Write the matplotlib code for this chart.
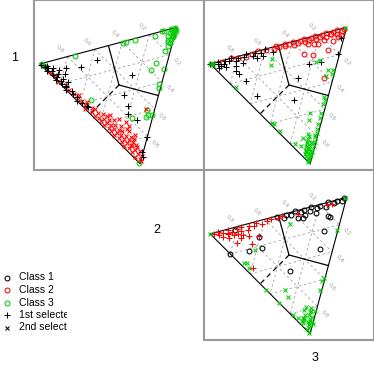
import numpy as np
import matplotlib.pyplot as plt

plt.rcParams['font.family'] = ['Liberation Sans', 'DejaVu Sans']

# compositions stored as (part 2, part 3); part 1 is the rest
# panel "1 vs 2"
a_class1 = [(0.00,0.01),(0.01,0.03),(0.02,0.05),(0.00,0.07),(0.03,0.08),(0.01,0.11),(0.04,0.12),
            (0.02,0.14),(0.00,0.16),(0.04,0.17),(0.01,0.20),(0.02,0.23),(0.00,0.26),(0.03,0.28),
            (0.01,0.31),(0.02,0.34),(0.00,0.37),(0.01,0.40),(0.05,0.06),(0.03,0.03),(0.02,0.18),
            (0.01,0.24),(0.03,0.43),(0.03,0.44),
            (0.35,0.09),(0.22,0.11),(0.12,0.09),(0.07,0.09),(0.09,0.13),(0.06,0.20),(0.47,0.28),
            (0.31,0.42),(0.26,0.52),(0.22,0.58),(0.23,0.65),(0.20,0.80),(0.08,0.91),(0.06,0.95)]
a_class2 = [(0.01,0.08),(0.02,0.12),(0.00,0.18),(0.03,0.22),(0.01,0.27),(0.02,0.31),(0.04,0.33),
            (0.01,0.36),(0.03,0.38),(0.05,0.40),(0.02,0.42),(0.00,0.45),(0.04,0.46),(0.06,0.47),
            (0.02,0.49),(0.05,0.51),(0.01,0.53),(0.07,0.53),(0.03,0.55),(0.09,0.55),(0.05,0.57),
            (0.02,0.58),(0.07,0.59),(0.04,0.61),(0.10,0.60),(0.01,0.62),(0.06,0.63),(0.08,0.64),
            (0.03,0.65),(0.05,0.67),(0.11,0.66),(0.02,0.68),(0.07,0.69),(0.09,0.70),(0.04,0.71),
            (0.01,0.72),(0.06,0.73),(0.12,0.72),(0.03,0.75),(0.08,0.75),(0.05,0.77),(0.10,0.77),
            (0.02,0.79),(0.07,0.79),(0.04,0.81),(0.09,0.81),(0.01,0.83),(0.06,0.83),(0.03,0.85),
            (0.08,0.86),(0.05,0.88),(0.02,0.89),(0.07,0.90),(0.04,0.92),(0.01,0.94),(0.03,0.96),
            (0.02,0.98),(0.06,0.94),(0.09,0.84),(0.11,0.79),
            (0.14,0.60),(0.16,0.64),(0.14,0.76),(0.06,0.84),(0.35,0.58),(0.11,0.55),(0.12,0.70),
            (0.15,0.68)]
a_class3 = [(0.95,0.02),(0.98,0.01),(0.93,0.03),(0.90,0.05),(0.90,0.08),(0.87,0.11),(0.84,0.13),
            (0.80,0.16),(0.95,0.03),(0.91,0.00),(0.89,0.00),(0.83,0.02),(0.86,0.10),(0.69,0.01),
            (0.62,0.01),(0.60,0.01),(0.67,0.24),(0.61,0.28),(0.69,0.30),(0.57,0.41),(0.55,0.44),
            (0.25,0.01),(0.09,0.39),(0.35,0.59),(0.33,0.63),(0.31,0.64),(0.35,0.64),(0.22,0.62),
            (0.00,0.99),(0.01,0.00),(0.01,0.02),(0.97,0.02),(0.96,0.00),(0.99,0.00),(0.94,0.05),
            (0.92,0.07),(0.97,0.03),(0.93,0.06),(0.88,0.08)]

# panel "1 vs 3"
b_class1 = [(0.00,0.00),(0.02,0.01),(0.04,0.02),(0.06,0.00),(0.08,0.03),(0.10,0.01),(0.12,0.02),
            (0.15,0.00),(0.17,0.03),(0.20,0.01),(0.23,0.02),(0.26,0.00),(0.29,0.03),(0.05,0.04),
            (0.03,0.05),(0.32,0.01),(0.36,0.02),(0.40,0.00),
            (0.20,0.06),(0.31,0.05),(0.35,0.05),(0.11,0.11),(0.11,0.14),(0.11,0.21),(0.42,0.30),
            (0.28,0.46),(0.09,0.35),(0.57,0.21),(0.65,0.22),(0.80,0.19),(0.91,0.07),(0.43,0.04),
            (0.14,0.07),(0.07,0.06)]
b_class2 = [(0.08,0.01),(0.35,0.00),(0.40,0.01),(0.45,0.02),(0.48,0.00),(0.50,0.01),(0.53,0.02),
            (0.55,0.00),(0.57,0.01),(0.59,0.03),(0.61,0.00),(0.63,0.02),(0.65,0.01),(0.67,0.03),
            (0.69,0.00),(0.71,0.02),(0.73,0.01),(0.75,0.03),(0.77,0.00),(0.79,0.02),(0.81,0.01),
            (0.83,0.03),(0.85,0.00),(0.87,0.02),(0.89,0.01),(0.91,0.03),(0.93,0.00),(0.95,0.02),
            (0.97,0.01),(0.20,0.01),(0.25,0.02),(0.30,0.01),(0.15,0.00),
            (0.60,0.12),(0.64,0.15),(0.76,0.14),(0.58,0.35),(0.68,0.05),(0.74,0.07),(0.87,0.02),
            (0.89,0.06),(0.80,0.05),(0.84,0.08),(0.72,0.06),(0.92,0.05)]
b_class3 = [(0.34,0.14),(0.39,0.09),(0.62,0.21),(0.66,0.20),(0.64,0.30),(0.64,0.34),(0.60,0.34),
            (0.67,0.31),(0.01,0.24),(0.01,0.60),(0.02,0.61),(0.01,0.68),(0.03,0.81),(0.29,0.60),
            (0.25,0.65),(0.45,0.53),(0.47,0.50),(0.42,0.56),(0.00,0.00),(0.01,0.01),(0.02,0.00),
            (0.99,0.00),
            (0.15,0.84),(0.20,0.78),(0.24,0.74),(0.28,0.70),(0.32,0.66),(0.36,0.62),(0.18,0.80),
            (0.22,0.77),
            (0.05,0.92),(0.07,0.90),(0.03,0.95),(0.00,0.98),(0.02,0.96),(0.10,0.86),(0.12,0.84),
            (0.08,0.88),(0.06,0.93),(0.04,0.94),(0.09,0.90),(0.13,0.80),(0.15,0.78),(0.11,0.82),
            (0.14,0.83),(0.05,0.89),(0.02,0.93),(0.07,0.86),(0.10,0.83),(0.04,0.90),(0.08,0.91),
            (0.01,0.97),(0.06,0.88),(0.12,0.87),(0.03,0.91),(0.09,0.85),(0.16,0.76),(0.05,0.84),
            (0.11,0.78)]

# panel "2 vs 3"
c_class1 = [(0.55,0.01),(0.58,0.02),(0.62,0.00),(0.65,0.02),(0.68,0.01),(0.71,0.03),(0.74,0.00),
            (0.77,0.02),(0.80,0.01),(0.83,0.03),(0.86,0.00),(0.89,0.02),(0.92,0.01),(0.95,0.02),
            (0.98,0.00),(0.48,0.01),(0.52,0.03),
            (0.60,0.06),(0.73,0.06),(0.78,0.11),(0.79,0.12),(0.67,0.22),(0.55,0.35),(0.25,0.46),
            (0.22,0.22),(0.12,0.22),(0.00,0.20),(0.17,0.02),(0.26,0.13),(0.63,0.07),(0.66,0.05)]
c_class2 = [(0.02,0.01),(0.04,0.03),(0.06,0.00),(0.08,0.02),(0.10,0.04),(0.12,0.01),(0.14,0.03),
            (0.16,0.06),(0.18,0.02),(0.20,0.04),(0.22,0.01),(0.24,0.05),(0.27,0.02),(0.30,0.03),
            (0.33,0.01),(0.36,0.03),(0.40,0.02),(0.44,0.01),(0.48,0.02),(0.52,0.01),(0.06,0.05),
            (0.09,0.07),(0.13,0.06),(0.18,0.08),(0.11,0.03),
            (0.10,0.13),(0.18,0.17),(0.05,0.36),(0.27,0.12),(0.88,0.02),(0.84,0.02),(0.62,0.03),
            (0.21,0.10),(0.15,0.10)]
c_class3 = [(0.16,0.83),(0.37,0.61),(0.31,0.68),(0.40,0.59),(0.75,0.24),(0.52,0.09),(0.17,0.22),
            (0.04,0.31),(0.03,0.35),(0.03,0.30),(0.00,0.56),(0.11,0.60),(0.09,0.66),(0.00,0.69),
            (0.01,0.82),(0.00,0.00),(0.99,0.00),
            (0.02,0.85),(0.04,0.88),(0.06,0.86),(0.08,0.84),(0.10,0.85),(0.05,0.92),(0.03,0.95),
            (0.00,0.99),(0.07,0.90),(0.09,0.88),(0.12,0.83),(0.14,0.82),(0.11,0.87),(0.06,0.90),
            (0.02,0.90),(0.04,0.93),(0.10,0.80),(0.13,0.78),(0.01,0.96),(0.08,0.91),(0.05,0.86),
            (0.03,0.88),(0.07,0.93),(0.15,0.80)]

levels = [0.2, 0.4, 0.6, 0.8]
class_colors = ['black', '#ff0000', '#00cd00']
legend_labels = ['Class 1', 'Class 2', 'Class 3', '1st selected', '2nd selected']
diag_labels = ['1', '2', '3']

W = 374.0
fig = plt.figure(figsize=(3.74, 3.74), dpi=100)


def px_axes(x0, y0, w, h):
    return fig.add_axes([x0 / W, 1 - (y0 + h) / W, w / W, h / W])


ang = np.deg2rad([165, 45, 285])
verts = np.column_stack([0.5 + 0.48 * np.cos(ang), 0.5 + 0.48 * np.sin(ang)])


def to_xy(pts):
    p = np.array(pts)
    comp = np.column_stack([1 - p[:, 0] - p[:, 1], p[:, 0], p[:, 1]])
    return comp @ verts


def style_kw(m):
    if m == 'o':
        return dict(marker='o', ms=3.5, mfc='none', mew=0.75)
    if m == '+':
        return dict(marker='+', ms=4.5, mew=0.75)
    return dict(marker='x', ms=3.4, mew=0.75)


def ternary(ax, sets):
    ax.set_xlim(0, 1)
    ax.set_ylim(0, 1)
    ax.set_xticks([])
    ax.set_yticks([])
    for sp in ax.spines.values():
        sp.set_color('#999999')
        sp.set_linewidth(1.5)
    # gray grid
    for lev in levels:
        for k in range(3):
            i, j = [m for m in range(3) if m != k]
            a = np.zeros(3); a[k] = lev; a[i] = 1 - lev
            b = np.zeros(3); b[k] = lev; b[j] = 1 - lev
            p, q = a @ verts, b @ verts
            ax.plot([p[0], q[0]], [p[1], q[1]], color='#a0a0a0', lw=0.6,
                    ls=(0, (3, 3)), zorder=1)
    tri = np.vstack([verts, verts[:1]])
    ax.plot(tri[:, 0], tri[:, 1], color='black', lw=0.8, zorder=2)
    # axis labels at grid ends
    d = verts[2] - verts[0]
    d = d / np.linalg.norm(d)
    for u in levels:
        pt = verts[0] + u * (verts[1] - verts[0]) - 0.062 * d
        ax.text(pt[0], pt[1], f'{1 - u:.1f}', fontsize=4.5, color='#a0a0a0',
                rotation=-45, ha='center', va='center')
        pt = verts[1] + u * (verts[2] - verts[1]) + 0.062 * d
        ax.text(pt[0], pt[1], f'{u:.1f}', fontsize=4.5, color='#a0a0a0',
                rotation=-45, ha='center', va='center')
    # class boundaries
    c = verts.mean(axis=0)
    for (i, j), ls in [((0, 1), '-'), ((1, 2), '-'), ((2, 0), (0, (4, 3)))]:
        m = (verts[i] + verts[j]) / 2
        ax.plot([c[0], m[0]], [c[1], m[1]], color='black', lw=0.9, ls=ls, zorder=2)
    for pts, col, mk in sets:
        xy = to_xy(pts)
        ax.plot(xy[:, 0], xy[:, 1], ls='none', color=col, zorder=3, **style_kw(mk))


ax1 = px_axes(34, 0, 170, 170)
ternary(ax1, [(a_class3, class_colors[2], 'o'), (a_class2, class_colors[1], 'x'),
              (a_class1, class_colors[0], '+')])
ax2 = px_axes(204, 0, 170, 170)
ternary(ax2, [(b_class2, class_colors[1], 'o'), (b_class1, class_colors[0], '+'),
              (b_class3, class_colors[2], 'x')])
ax3 = px_axes(204, 170, 170, 170)
ternary(ax3, [(c_class1, class_colors[0], 'o'), (c_class2, class_colors[1], '+'),
              (c_class3, class_colors[2], 'x')])

# diagonal labels
for lab, (x, y) in zip(diag_labels, [(15, 58), (157, 230), (315, 358)]):
    fig.text(x / W, 1 - y / W, lab, fontsize=9, ha='center', va='center')

# legend, clipped like the original
leg = px_axes(0, 262, 67, 78)
leg.set_xlim(0, 67)
leg.set_ylim(78, 0)
leg.axis('off')
marks = [('o', class_colors[0]), ('o', class_colors[1]), ('o', class_colors[2]),
         ('+', 'black'), ('x', 'black')]
for i, (lab, (mk, col)) in enumerate(zip(legend_labels, marks)):
    y = 15.5 + 12.5 * i
    leg.plot([7], [y], color=col, ls='none', clip_on=False, **style_kw(mk))
    leg.text(19, y, lab, fontsize=7.5, va='center', ha='left', clip_on=True)

fig.savefig('out.png', dpi=100)
